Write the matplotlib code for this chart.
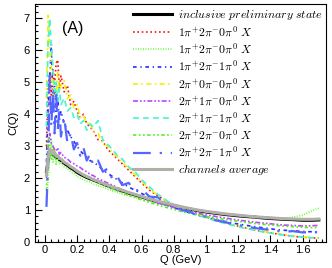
import matplotlib
matplotlib.use("Agg")
import matplotlib.pyplot as plt
from matplotlib.ticker import MultipleLocator

plt.rcParams["font.family"] = ["Liberation Sans", "DejaVu Sans"]
plt.rcParams["mathtext.fontset"] = "cm"

# Q grid (GeV)
q = [0.01, 0.02, 0.03, 0.04, 0.05, 0.06, 0.07, 0.08, 0.09, 0.10,
     0.12, 0.14, 0.16, 0.18, 0.20, 0.22, 0.24, 0.26, 0.28, 0.30,
     0.33, 0.36, 0.39, 0.42, 0.45, 0.48, 0.52, 0.56, 0.60, 0.65,
     0.70, 0.75, 0.80, 0.85, 0.90, 0.95, 1.00, 1.06, 1.12, 1.18,
     1.24, 1.30, 1.36, 1.42, 1.48, 1.54, 1.60, 1.66, 1.70]

inclusive = [2.20, 2.55, 2.85, 2.80, 2.72, 2.76, 2.63, 2.66, 2.58, 2.55,
             2.46, 2.40, 2.32, 2.26, 2.18, 2.12, 2.07, 2.02, 1.98, 1.94,
             1.88, 1.82, 1.76, 1.70, 1.65, 1.60, 1.53, 1.47, 1.41, 1.33,
             1.26, 1.20, 1.14, 1.08, 1.03, 0.98, 0.94, 0.90, 0.86, 0.83,
             0.80, 0.78, 0.75, 0.73, 0.71, 0.70, 0.68, 0.68, 0.69]
ch_red = [3.00, 4.80, 5.30, 4.60, 5.40, 4.90, 5.60, 5.70, 4.80, 5.20,
          4.70, 4.90, 4.30, 4.40, 4.10, 3.90, 4.00, 3.70, 3.60, 3.50,
          3.20, 3.15, 2.90, 2.75, 2.60, 2.45, 2.25, 2.05, 1.85, 1.62,
          1.45, 1.30, 1.15, 1.03, 0.93, 0.85, 0.78, 0.68, 0.60, 0.52,
          0.45, 0.38, 0.32, 0.27, 0.22, 0.18, 0.15, 0.13, 0.12]
ch_green1 = [1.30, 1.90, 2.60, 3.20, 2.50, 2.90, 2.40, 2.70, 2.45, 2.50,
             2.35, 2.30, 2.20, 2.15, 2.05, 2.00, 1.95, 1.90, 1.88, 1.82,
             1.76, 1.72, 1.66, 1.60, 1.56, 1.50, 1.45, 1.40, 1.34, 1.28,
             1.22, 1.16, 1.11, 1.06, 1.02, 0.98, 0.95, 0.91, 0.88, 0.85,
             0.82, 0.80, 0.78, 0.76, 0.74, 0.78, 0.84, 0.98, 1.06]
ch_blue1 = [2.50, 4.20, 5.00, 6.20, 4.40, 4.90, 3.90, 4.50, 3.80, 4.10,
            3.70, 3.50, 3.30, 3.15, 3.00, 2.85, 2.75, 2.65, 2.55, 2.50,
            2.40, 2.25, 2.15, 2.05, 1.95, 1.85, 1.72, 1.62, 1.52, 1.40,
            1.28, 1.18, 1.08, 0.99, 0.91, 0.84, 0.78, 0.70, 0.64, 0.58,
            0.53, 0.48, 0.44, 0.40, 0.37, 0.35, 0.33, 0.32, 0.32]
ch_yellow = [4.50, 7.10, 6.00, 5.50, 4.60, 5.00, 4.50, 5.30, 4.70, 4.90,
             5.05, 4.50, 4.60, 4.20, 4.30, 3.90, 3.95, 3.70, 3.75, 3.45,
             3.40, 3.10, 3.00, 2.80, 2.65, 2.50, 2.30, 2.10, 1.90, 1.66,
             1.47, 1.30, 1.16, 1.04, 0.94, 0.86, 0.79, 0.69, 0.61, 0.53,
             0.46, 0.39, 0.33, 0.28, 0.23, 0.19, 0.16, 0.14, 0.13]
ch_magenta = [2.00, 3.00, 3.40, 3.10, 3.00, 2.90, 2.85, 2.95, 2.75, 2.80,
              2.65, 2.60, 2.50, 2.45, 2.38, 2.33, 2.25, 2.20, 2.12, 2.08,
              1.98, 1.92, 1.84, 1.78, 1.70, 1.64, 1.55, 1.48, 1.40, 1.32,
              1.22, 1.15, 1.08, 1.00, 0.95, 0.90, 0.85, 0.80, 0.75, 0.70,
              0.66, 0.62, 0.59, 0.56, 0.53, 0.52, 0.50, 0.51, 0.52]
ch_cyan = [3.60, 6.20, 7.00, 6.10, 5.50, 4.70, 5.00, 4.40, 4.80, 4.30,
           4.50, 4.10, 4.20, 3.90, 4.00, 3.70, 3.80, 3.50, 3.70, 3.60,
           3.80, 3.20, 3.05, 2.90, 2.70, 2.60, 2.35, 2.20, 1.95, 1.72,
           1.50, 1.32, 1.15, 1.02, 0.92, 0.83, 0.76, 0.66, 0.58, 0.50,
           0.43, 0.37, 0.31, 0.26, 0.22, 0.18, 0.15, 0.13, 0.12]
ch_green2 = [1.60, 3.30, 3.00, 2.60, 2.90, 2.70, 2.80, 2.60, 2.70, 2.55,
             2.50, 2.45, 2.35, 2.30, 2.22, 2.15, 2.10, 2.04, 1.98, 1.93,
             1.86, 1.80, 1.73, 1.66, 1.60, 1.54, 1.46, 1.39, 1.32, 1.24,
             1.16, 1.09, 1.02, 0.95, 0.90, 0.85, 0.80, 0.75, 0.70, 0.66,
             0.62, 0.58, 0.55, 0.52, 0.50, 0.48, 0.46, 0.45, 0.45]
ch_blue2 = [1.10, 2.40, 5.20, 3.60, 4.80, 3.40, 4.60, 3.50, 4.20, 3.30,
            3.90, 3.10, 3.40, 2.90, 3.10, 2.70, 2.95, 2.55, 2.75, 2.40,
            2.55, 2.20, 2.30, 1.95, 2.05, 1.78, 1.85, 1.60, 1.66, 1.42,
            1.40, 1.20, 1.15, 1.00, 0.95, 0.82, 0.80, 0.68, 0.62, 0.55,
            0.50, 0.44, 0.40, 0.36, 0.32, 0.34, 0.30, 0.31, 0.30]
average = [2.10, 2.60, 2.90, 2.85, 2.75, 2.80, 2.68, 2.70, 2.62, 2.60,
           2.50, 2.44, 2.36, 2.30, 2.22, 2.16, 2.10, 2.05, 2.01, 1.96,
           1.90, 1.84, 1.78, 1.72, 1.67, 1.62, 1.55, 1.49, 1.43, 1.35,
           1.28, 1.22, 1.16, 1.10, 1.05, 1.00, 0.96, 0.92, 0.88, 0.85,
           0.82, 0.79, 0.77, 0.75, 0.73, 0.72, 0.71, 0.71, 0.72]

ch_label = r"$%s\pi^{+}%s\pi^{-}%s\pi^{0}\ X$"
series = [
    (inclusive, r"$\mathit{inclusive\ preliminary\ state}$", "black", "-", 2.2),
    (ch_red, ch_label % ("1", "2", "0"), "#ff1010", (0, (1, 1.6)), 1.2),
    (ch_green1, ch_label % ("1", "2", "0"), "#66ff33", (0, (0.6, 0.9)), 1.2),
    (ch_blue1, ch_label % ("1", "2", "1"), "#2a2aff", (0, (2.2, 2.2, 0.8, 2.2)), 1.2),
    (ch_yellow, ch_label % ("2", "0", "0"), "#f2f200", (0, (3, 2, 1, 2)), 1.2),
    (ch_magenta, ch_label % ("2", "1", "0"), "#bb44ff", (0, (3, 1.2, 1, 1.2, 1, 1.2)), 1.2),
    (ch_cyan, ch_label % ("2", "1", "1"), "#44f5d0", (0, (3.5, 2.5)), 1.2),
    (ch_green2, ch_label % ("2", "2", "0"), "#55ee22", (0, (2, 1.5, 1, 1.5, 1, 1.5)), 1.2),
    (ch_blue2, ch_label % ("2", "2", "1"), "#5566ff", (0, (8, 4, 1, 4)), 1.6),
    (average, r"$\mathit{channels\ average}$", "#b0b0a8", "-", 2.2),
]

fig = plt.figure(figsize=(3.32, 2.68), dpi=100)
ax = fig.add_axes([0.105, 0.097, 0.877, 0.888])

for vals, lab, col, ls, lw in series:
    ax.plot(q, vals, color=col, linestyle=ls, linewidth=lw, label=lab)

ax.set_xlim(-0.062, 1.745)
ax.set_ylim(0, 7.45)
ax.xaxis.set_major_locator(MultipleLocator(0.2))
ax.xaxis.set_minor_locator(MultipleLocator(0.04))
ax.yaxis.set_major_locator(MultipleLocator(1))
ax.yaxis.set_minor_locator(MultipleLocator(0.2))
ax.tick_params(which="both", direction="in", labelsize=8, width=0.8)
ax.tick_params(axis="x", pad=2)
ax.tick_params(which="major", length=5)
ax.tick_params(which="minor", length=2.5)
ax.xaxis.set_major_formatter(plt.FuncFormatter(lambda v, p: "%g" % round(v, 2)))

ax.set_xlabel("Q (GeV)", fontsize=8, labelpad=0)
ax.set_ylabel("C(Q)", fontsize=8, labelpad=4)
ax.text(0.17, 6.69, "(A)", fontsize=11.5, ha="center", va="center")

ax.legend(loc="upper left", bbox_to_anchor=(0.40, 0.97), bbox_transform=fig.transFigure,
          frameon=False, fontsize=8.5, handlelength=3.3, handletextpad=0.5,
          labelspacing=0.22, borderpad=0, borderaxespad=0)

fig.savefig("out.png", dpi=100)
